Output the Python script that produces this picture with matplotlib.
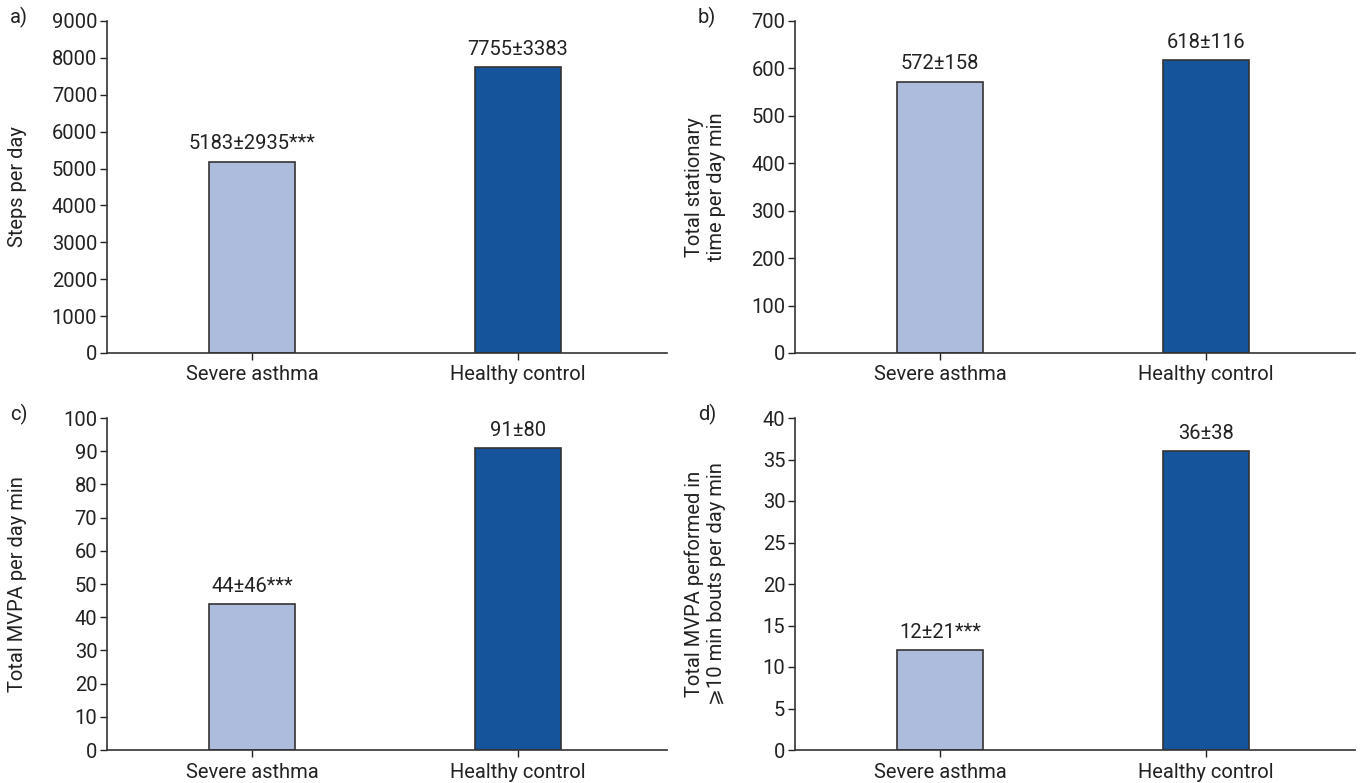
import matplotlib.pyplot as plt

plt.rcParams['font.family'] = ['Roboto', 'DejaVu Sans']

groups = ['Severe asthma', 'Healthy control']
steps = [5183, 7755]
steps_lbl = ['5183±2935***', '7755±3383']
stationary = [572, 618]
stationary_lbl = ['572±158', '618±116']
mvpa = [44, 91]
mvpa_lbl = ['44±46***', '91±80']
mvpa_bouts = [12, 36]
mvpa_bouts_lbl = ['12±21***', '36±38']

panels = [
    ('a)', steps, steps_lbl, 'Steps per day', 9000, 1000),
    ('b)', stationary, stationary_lbl, 'Total stationary\ntime per day min', 700, 100),
    ('c)', mvpa, mvpa_lbl, 'Total MVPA per day min', 100, 10),
    ('d)', mvpa_bouts, mvpa_bouts_lbl,
     'Total MVPA performed in\n⩾10 min bouts per day min', 40, 5),
]

colors = ['#adbcdc', '#15549a']
txt = '#222222'
fs = 14.5
W, H = 1360, 783
fig = plt.figure(figsize=(W / 100, H / 100), dpi=100)

# axes boxes in pixels: left, top, right, bottom
boxes = [(107, 21, 667, 353), (795, 21, 1355, 353),
         (107, 418, 667, 750), (795, 418, 1355, 750)]

for (tag, vals, lbls, ylab, ymax, step), (l, t, r, b) in zip(panels, boxes):
    ax = fig.add_axes([l / W, 1 - b / H, (r - l) / W, (b - t) / H])
    x = range(len(groups))
    ax.bar(x, vals, width=0.325, color=colors, edgecolor='#333333', linewidth=1.2)
    for xi, v, s in zip(x, vals, lbls):
        ax.annotate(s, (xi, v), xytext=(0, 6), textcoords='offset points',
                    ha='center', va='bottom', fontsize=fs, color=txt)
    ax.set_xlim(-0.545, 1.56)
    ax.set_ylim(0, ymax)
    ax.set_yticks(range(0, ymax + 1, step))
    ax.set_xticks(list(x))
    ax.set_xticklabels(groups)
    ax.tick_params(labelsize=fs, colors=txt, length=5, width=1, pad=2)
    ax.tick_params(axis='x', pad=4)
    for sp in ['top', 'right']:
        ax.spines[sp].set_visible(False)
    for sp in ['left', 'bottom']:
        ax.spines[sp].set_color('#333333')
        ax.spines[sp].set_linewidth(1.2)
    ax.set_ylabel(ylab, fontsize=fs, color=txt, va='center', linespacing=1.2)
    ax.yaxis.set_label_coords(-0.16, 0.5)
    fig.text((l - 97) / W, 1 - (t - 4) / H, tag, fontsize=fs, color=txt,
             ha='left', va='center')

fig.savefig('out.png', dpi=100)
